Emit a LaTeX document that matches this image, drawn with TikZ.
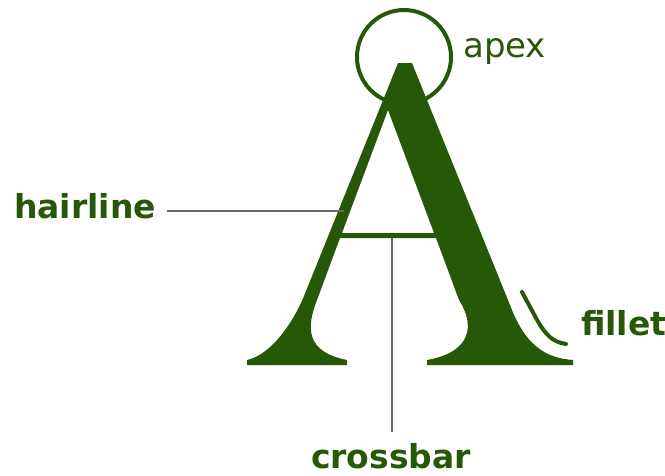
\documentclass[tikz,border=0pt]{standalone}
\usepackage{fontspec}
\setmainfont{DejaVu Sans}
\definecolor{leafgreen}{RGB}{38,88,8}
\definecolor{leadgray}{RGB}{105,105,105}

\begin{document}
\begin{tikzpicture}[x=1pt, y=-1pt,
  partname/.style={text=leafgreen, inner sep=0pt, font=\fontsize{33}{40}\selectfont\bfseries},
  pointer/.style={draw=leadgray, line width=1.6pt, shorten <=10.5pt}]
  \useasboundingbox (0,0) rectangle (665,475);

  \coordinate (hair) at (344,211);
  \coordinate (bar) at (392,238);

  % letter A
  \fill[leafgreen, even odd rule]
    (398,63) -- (412,63) -- (510,305)
    .. controls (525,345) and (545,358) .. (573,360)
    -- (573,365) -- (427,365) -- (427,360)
    .. controls (472,352) and (475,325) .. (459,300)
    -- (436,238) -- (340,238) -- (317,300)
    .. controls (306,328) and (306,352) .. (347,360)
    -- (347,365) -- (247,365) -- (247,360)
    .. controls (270,355) and (292,325) .. (304,296) -- cycle
    (388,110) -- (434,233) -- (342,233) -- cycle;

  % apex ring
  \draw[leafgreen, line width=4pt] (404,57) circle[radius=47];

  % fillet mark
  \draw[leafgreen, line width=4pt, line cap=round]
    (522,292) -- (536,318) .. controls (546,336) and (553,342) .. (566,344);

  \node[partname, anchor=base west] (hairline) at (14,218) {hairline};
  \node[partname, anchor=base] (crossbar) at (391,468) {crossbar};
  \node[partname, anchor=base west] (fillet) at (581,335) {fillet};
  \node[partname, anchor=base west, font=\fontsize{34}{40}\selectfont] (apex) at (463,57) {apex};

  \draw[pointer] (hairline.east |- hair) -- (hair);
  \draw[pointer] (crossbar.north -| bar) -- (bar);
\end{tikzpicture}
\end{document}
